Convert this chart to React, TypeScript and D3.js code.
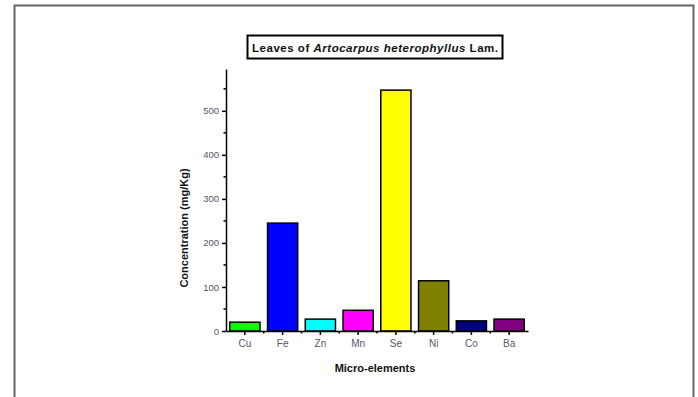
import React, { useRef, useEffect } from 'react'
import * as d3 from 'd3'

const elements = ['Cu', 'Fe', 'Zn', 'Mn', 'Se', 'Ni', 'Co', 'Ba']
const concentrations = [20, 245, 27, 47, 547, 114, 23, 27]
const barColors = ['#00ff00', '#0000ff', '#00ffff', '#ff00ff', '#ffff00', '#808000', '#000080', '#800080']
const majorTicks = [0, 100, 200, 300, 400, 500]
const minorTicks = [50, 150, 250, 350, 450, 550]

export default function App() {
  const svgRef = useRef<SVGSVGElement>(null)

  useEffect(() => {
    document.body.style.margin = '0'
    if (!svgRef.current) return
    const svg = d3.select(svgRef.current)
    svg.selectAll('*').remove()

    // outer frame
    svg.append('rect')
      .attr('x', 14.5).attr('y', 5.5)
      .attr('width', 679).attr('height', 420)
      .attr('fill', '#fff').attr('stroke', '#666').attr('stroke-width', 2)

    const x = d3.scaleBand().domain(elements).range([226, 528]).paddingInner(0.2).paddingOuter(0.1)
    const y = d3.scaleLinear().domain([0, 595]).range([331, 69])

    const data = elements.map((e, i) => ({ e, v: concentrations[i], c: barColors[i] }))

    svg.append('g').selectAll('rect')
      .data(data)
      .enter()
      .append('rect')
      .attr('x', d => x(d.e)!)
      .attr('y', d => y(d.v))
      .attr('width', x.bandwidth())
      .attr('height', d => y(0) - y(d.v))
      .attr('fill', d => d.c)
      .attr('stroke', '#000')
      .attr('stroke-width', 1.5)

    // y axis
    const yAxis = svg.append('g').attr('transform', 'translate(226,0)')
    yAxis.call(d3.axisLeft(y).tickValues(majorTicks).tickSize(4).tickPadding(3).tickSizeOuter(0))
    yAxis.selectAll('text').attr('font-size', 9.5).attr('fill', '#55556a').attr('font-family', 'Liberation Sans, Arial, sans-serif')
    yAxis.selectAll('line,path').attr('stroke', '#000').attr('stroke-width', 1.5)
    yAxis.append('g').selectAll('line').data(minorTicks).enter().append('line')
      .attr('x1', 0).attr('x2', -2.5).attr('y1', d => y(d)).attr('y2', d => y(d))
      .attr('stroke', '#000').attr('stroke-width', 1.5)

    // x axis
    const xAxis = svg.append('g').attr('transform', 'translate(0,331)')
    xAxis.call(d3.axisBottom(x).tickSize(4).tickPadding(5).tickSizeOuter(0))
    xAxis.selectAll('text').attr('font-size', 10).attr('fill', '#55556a').attr('font-family', 'Liberation Sans, Arial, sans-serif')
    xAxis.selectAll('line,path').attr('stroke', '#000').attr('stroke-width', 1.5)
    const step = x.step()
    const bounds = elements.slice(1).map(e => x(e)! - step * x.paddingInner() / 2)
    xAxis.append('g').selectAll('line').data(bounds).enter().append('line')
      .attr('x1', d => d).attr('x2', d => d).attr('y1', 0).attr('y2', 2.5)
      .attr('stroke', '#000').attr('stroke-width', 1.5)

    // axis titles
    svg.append('text')
      .attr('x', 375).attr('y', 372)
      .attr('text-anchor', 'middle')
      .attr('font-size', 11).attr('font-weight', 'bold')
      .attr('font-family', 'Liberation Sans, Arial, sans-serif')
      .attr('fill', '#111')
      .text('Micro-elements')

    svg.append('text')
      .attr('transform', 'translate(188,228) rotate(-90)')
      .attr('text-anchor', 'middle')
      .attr('font-size', 11).attr('font-weight', 'bold')
      .attr('font-family', 'Liberation Sans, Arial, sans-serif')
      .attr('fill', '#111')
      .text('Concentration (mg/Kg)')

    // title box
    svg.append('rect')
      .attr('x', 247.5).attr('y', 35.5)
      .attr('width', 255).attr('height', 23)
      .attr('fill', '#fff').attr('stroke', '#000').attr('stroke-width', 2)
    const title = svg.append('text')
      .attr('x', 252).attr('y', 51.5)
      .attr('font-size', 11.5).attr('font-weight', 'bold')
      .attr('font-family', 'Liberation Sans, Arial, sans-serif')
      .attr('fill', '#111')
      .attr('textLength', 246).attr('lengthAdjust', 'spacing')
    title.append('tspan').text('Leaves of ')
    title.append('tspan').attr('font-style', 'italic').text('Artocarpus heterophyllus')
    title.append('tspan').text(' Lam.')
  }, [])

  return <svg ref={svgRef} width={698} height={397} style={{ display: 'block' }} />
}
